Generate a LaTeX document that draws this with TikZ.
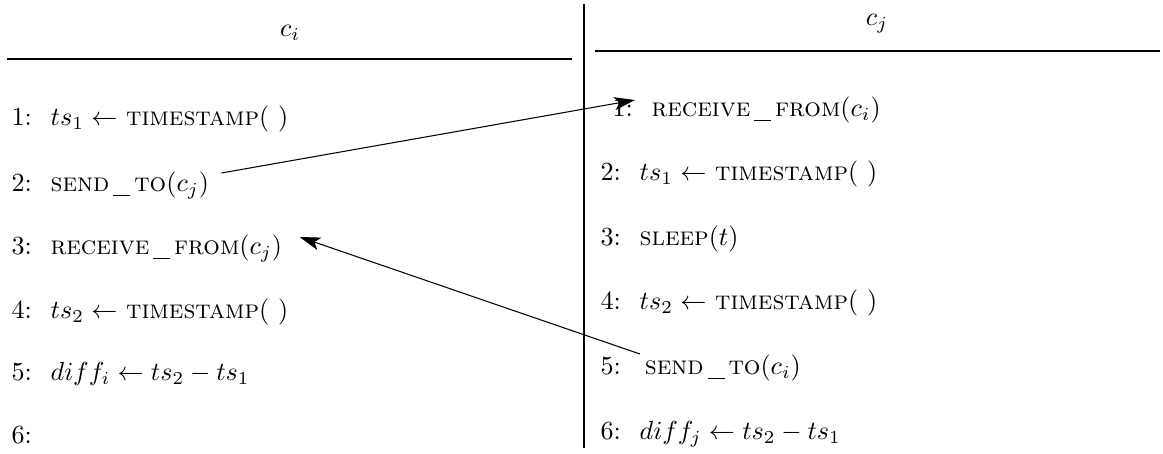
\documentclass[tikz,border=0pt]{standalone}
\usetikzlibrary{arrows.meta}

\newcommand{\lnum}[1]{\makebox[15pt][l]{#1:}}
\newcommand{\proc}[1]{\textsc{#1}}
\newcommand{\usc}{\hspace{1.5pt}\rule[-1.8pt]{6.5pt}{0.45pt}\hspace{1.5pt}}

\begin{document}
\begin{tikzpicture}[x=0.383pt, y=-0.383pt,
  rowtext/.style={anchor=west, inner sep=0pt, text height=7.5pt, text depth=2.5pt},
  msg/.style={-{Stealth[length=8pt, width=5pt, inset=2pt]}, line width=0.4pt}]
\useasboundingbox (0,0) rectangle (1163,453);

% column heads and rules
\node (hi) at (290,33) {$c_i$};
\node (hj) at (877,24) {$c_j$};
\draw (7,59) -- (572,59);
\draw (595,51) -- (1160,51);
\draw (584,4) -- (584,448);

% left column
\node[rowtext] (li1) at (11,119) {\lnum{1}$ts_1 \leftarrow$ \proc{timestamp}$(\ )$};
\node[rowtext] (li2) at (11,185) {\lnum{2}\proc{send\usc to}$(c_j)$};
\node[rowtext] (li3) at (11,248) {\lnum{3}\proc{receive\usc from}$(c_j)$};
\node[rowtext] (li4) at (11,312) {\lnum{4}$ts_2 \leftarrow$ \proc{timestamp}$(\ )$};
\node[rowtext] (li5) at (11,374) {\lnum{5}$diff_i \leftarrow ts_2 - ts_1$};
\node[rowtext] (li6) at (11,437) {\lnum{6}};

% right column
\node[rowtext] (rj1) at (612,110) {\lnum{1}\proc{receive\usc from}$(c_i)$};
\node[rowtext] (rj2) at (600,174) {\lnum{2}$ts_1 \leftarrow$ \proc{timestamp}$(\ )$};
\node[rowtext] (rj3) at (600,239) {\lnum{3}\proc{sleep}$(t)$};
\node[rowtext] (rj4) at (600,303) {\lnum{4}$ts_2 \leftarrow$ \proc{timestamp}$(\ )$};
\node[rowtext] (rj5) at (600,368) {\lnum{5}\hspace{2pt}\proc{send\usc to}$(c_i)$};
\node[rowtext] (rj6) at (600,433) {\lnum{6}$diff_j \leftarrow ts_2 - ts_1$};

% messages
\coordinate (send-i) at ([shift={(12,-12)}]li2.east);
\coordinate (recv-j) at ([shift={(23,-10)}]rj1.west);
\coordinate (send-j) at ([shift={(40,-14)}]rj5.west);
\coordinate (recv-i) at ([shift={(17,-11)}]li3.east);
\draw[msg] (send-i) -- (recv-j);
\draw[msg] (send-j) -- (recv-i);
\end{tikzpicture}
\end{document}
